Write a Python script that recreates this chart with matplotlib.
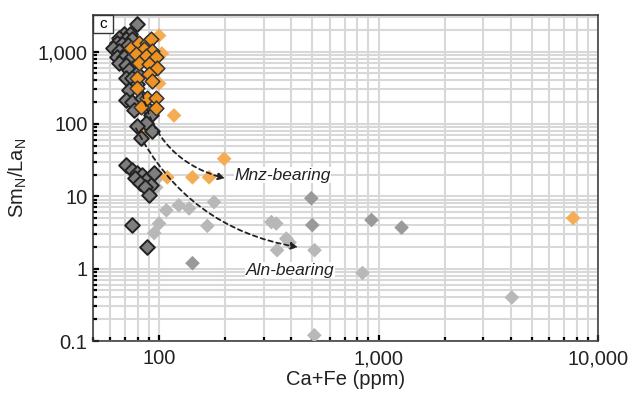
import numpy as np
import matplotlib
matplotlib.use('Agg')
import matplotlib.pyplot as plt
from matplotlib.ticker import LogLocator, FuncFormatter, NullFormatter
from matplotlib.patches import Rectangle

plt.rcParams['font.family'] = ['Liberation Sans', 'DejaVu Sans']

# dark grey diamonds, black outline (Ca+Fe ppm, SmN/LaN)
dark_x = [79, 69, 74, 66, 71, 75, 64, 68, 72, 62, 66, 71, 76, 64, 69, 74, 66, 71, 76, 73,
          79, 71, 75, 79, 73, 71, 75, 84, 87, 77, 92, 87, 79, 93, 83,
          71, 75, 79, 84, 87, 92, 78, 82, 86, 90, 95, 75, 88]
dark_y = [2430, 1770, 1770, 1560, 1510, 1510, 1330, 1290, 1250, 1135, 1030, 970, 1030, 850, 830, 800, 705, 660, 600, 550,
          510, 425, 425, 360, 290, 211, 198, 225, 169, 154, 131, 102, 95, 81, 63,
          27, 23, 21, 19.5, 16.6, 14.2, 17.7, 15.1, 13.3, 10.3, 20.7, 4.0, 2.0]

# orange diamonds with outline
org_x = [74.5, 81, 88, 92, 85, 93, 78.5, 87, 97, 81, 90, 98, 90, 79, 93, 79, 88, 97, 83, 97]
org_y = [1135, 1330, 1330, 1510, 1100, 1030, 940, 880, 850, 705, 683, 600, 497, 438, 398, 318, 225, 225, 169, 164]

# orange diamonds, no outline
org2_x = [100, 103, 100, 84, 117, 198, 109, 142, 169, 7700]
org2_y = [1660, 940, 362, 76, 131, 33, 18.3, 18.3, 18.3, 5.0]

# light grey diamonds
lg_x = [97, 98, 108, 123, 137, 178, 166, 100, 95, 325, 342, 380, 393, 345, 511, 510, 845, 4050]
lg_y = [13.3, 17.7, 6.4, 7.5, 6.8, 8.3, 3.9, 4.2, 3.1, 4.4, 4.2, 2.6, 2.3, 1.8, 1.8, 0.12, 0.87, 0.40]

# mid grey diamonds
mg_x = [494, 499, 929, 1274, 142]
mg_y = [9.4, 4.0, 4.7, 3.7, 1.19]

fig = plt.figure(figsize=(6.33, 3.94), dpi=100)
ax = fig.add_axes([0.1469, 0.1345, 0.7978, 0.8274])
ax.set_xscale('log')
ax.set_yscale('log')
ax.set_xlim(50, 10000)
ax.set_ylim(0.1, 3200)

ax.set_axisbelow(True)
ax.xaxis.set_major_locator(LogLocator(base=10))
ax.xaxis.set_minor_locator(LogLocator(base=10, subs=np.arange(2, 10)))
ax.yaxis.set_major_locator(LogLocator(base=10))
ax.yaxis.set_minor_locator(LogLocator(base=10, subs=np.arange(2, 10)))
ax.grid(True, which='both', color='#d8d8d8', linewidth=1.5)

fmt = FuncFormatter(lambda v, p: f'{v:,.0f}' if v >= 1 else f'{v:g}')
ax.xaxis.set_major_formatter(fmt)
ax.yaxis.set_major_formatter(fmt)
ax.xaxis.set_minor_formatter(NullFormatter())
ax.yaxis.set_minor_formatter(NullFormatter())
ax.tick_params(which='both', direction='in', color='black', width=1.6, labelsize=14.5,
               labelcolor='#222222')
ax.tick_params(which='major', length=4)
ax.tick_params(which='minor', length=3)
ax.tick_params(axis='x', pad=6)
ax.tick_params(axis='y', pad=4)
for s in ax.spines.values():
    s.set_color('#333333')
    s.set_linewidth(1.1)

ms = 56
ax.scatter(lg_x, lg_y, marker='D', s=ms, color='#b8b8b8', edgecolors='none', zorder=3)
ax.scatter(mg_x, mg_y, marker='D', s=ms, color='#9a9a9a', edgecolors='none', zorder=3)
ax.scatter(org2_x, org2_y, marker='D', s=ms, color='#f4ad55', edgecolors='none', zorder=3)
ax.scatter(dark_x, dark_y, marker='D', s=ms, color='#7e7e7e', edgecolors='#222222', linewidths=1.4, zorder=4)
ax.scatter(org_x, org_y, marker='D', s=ms, color='#ee9322', edgecolors='#333333', linewidths=1.1, zorder=5)

# trend arrows
arw = dict(arrowstyle='-|>', color='#222222', lw=1.3, linestyle=(0, (2.5, 2)),
           mutation_scale=10, shrinkA=0, shrinkB=0)
ax.annotate('', xy=(200, 17.7), xytext=(84, 260),
            arrowprops=dict(connectionstyle='arc3,rad=0.3', **arw), zorder=6)
ax.annotate('', xy=(430, 1.98), xytext=(78.5, 87),
            arrowprops=dict(connectionstyle='arc3,rad=0.25', **arw), zorder=6)
ax.text(220, 19.5, 'Mnz-bearing', style='italic', fontsize=12.5, ha='left', va='center',
        color='#222222', zorder=7, bbox=dict(facecolor='white', edgecolor='none', pad=0.5))
ax.text(249, 0.95, 'Aln-bearing', style='italic', fontsize=12.5, ha='left', va='center',
        color='#222222', zorder=7, bbox=dict(facecolor='white', edgecolor='none', pad=0.5))

# panel label
ax.add_patch(Rectangle((0, 0.945), 0.04, 0.055, transform=ax.transAxes, facecolor='white',
                       edgecolor='#333333', linewidth=1.0, zorder=8, clip_on=False))
ax.text(0.02, 0.972, 'c', transform=ax.transAxes, ha='center', va='center', fontsize=11, zorder=9)

ax.set_xlabel('Ca+Fe (ppm)', fontsize=14.5, labelpad=1, color='#222222')
ax.set_ylabel(r'Sm$_\mathregular{N}$/La$_\mathregular{N}$', fontsize=14.5, labelpad=6, color='#222222')

fig.savefig('out.png', dpi=100)
